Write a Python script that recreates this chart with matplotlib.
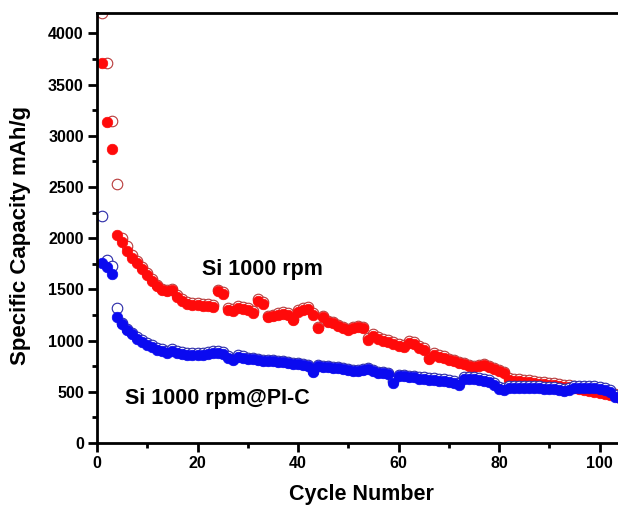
import matplotlib
matplotlib.use("Agg")
import matplotlib.pyplot as plt
from matplotlib.ticker import MultipleLocator

plt.rcParams['font.family'] = ['Liberation Sans', 'DejaVu Sans']
plt.rcParams['font.weight'] = 'bold'

cycles = list(range(1, 105))

# Si 1000 rpm (red): filled = discharge, open = charge
si_fill = [3710, 3140, 2870, 2030, 1960, 1880, 1810, 1760, 1700, 1640,
           1580, 1530, 1490, 1480, 1490, 1430, 1390, 1360, 1350, 1350,
           1340, 1340, 1330, 1480, 1460, 1300, 1290, 1320, 1310, 1300,
           1270, 1390, 1360, 1230, 1240, 1250, 1260, 1250, 1200, 1280,
           1300, 1310, 1250, 1120, 1230, 1180, 1170, 1140, 1120, 1100,
           1120, 1130, 1120, 1010, 1050, 1020, 1000, 990, 970, 950,
           940, 980, 970, 930, 910, 820, 860, 840, 830, 810,
           800, 780, 770, 750, 740, 750, 760, 740, 720, 700,
           680, 620, 610, 610, 600, 600, 590, 580, 580, 570,
           570, 560, 550, 550, 540, 530, 520, 510, 500, 490,
           480, 470, 460, 440]
si_open = [4200, 3710, 3150, 2530, 2000, 1920, 1840, 1780, 1720, 1660,
           1600, 1545, 1505, 1495, 1505, 1445, 1405, 1375, 1365, 1365,
           1355, 1355, 1345, 1495, 1475, 1315, 1305, 1335, 1325, 1315,
           1285, 1405, 1375, 1245, 1255, 1265, 1275, 1265, 1215, 1295,
           1315, 1325, 1265, 1135, 1245, 1195, 1185, 1155, 1135, 1115,
           1135, 1145, 1135, 1025, 1065, 1035, 1015, 1005, 985, 965,
           955, 995, 985, 945, 925, 835, 875, 855, 845, 825,
           815, 795, 785, 765, 755, 765, 775, 755, 735, 715,
           695, 635, 625, 625, 615, 615, 605, 595, 595, 585,
           585, 575, 565, 565, 555, 545, 535, 525, 515, 505,
           495, 485, 475, 455]

# Si 1000 rpm@PI-C (blue)
pic_fill = [1760, 1720, 1650, 1230, 1160, 1100, 1060, 1020, 990, 960,
            940, 910, 900, 880, 900, 880, 870, 860, 860, 860,
            860, 870, 880, 880, 870, 830, 810, 840, 830, 820,
            820, 810, 800, 800, 800, 790, 790, 780, 770, 770,
            760, 750, 690, 750, 740, 740, 730, 730, 720, 710,
            700, 700, 710, 720, 700, 680, 680, 670, 590, 650,
            650, 640, 640, 630, 630, 620, 620, 610, 610, 600,
            590, 570, 630, 630, 630, 620, 610, 600, 570, 530,
            520, 540, 540, 540, 540, 540, 540, 540, 530, 530,
            530, 520, 510, 520, 540, 540, 540, 540, 540, 530,
            520, 500, 450, 440]
pic_open = [2220, 1790, 1730, 1320, 1175, 1115, 1075, 1035, 1005, 975,
            955, 925, 915, 895, 915, 895, 885, 875, 875, 875,
            875, 885, 895, 895, 885, 845, 825, 855, 845, 835,
            835, 825, 815, 815, 815, 805, 805, 795, 785, 785,
            775, 765, 705, 765, 755, 755, 745, 745, 735, 725,
            715, 715, 725, 735, 715, 695, 695, 685, 605, 665,
            665, 655, 655, 645, 645, 635, 635, 625, 625, 615,
            605, 585, 645, 645, 645, 635, 625, 615, 585, 545,
            535, 555, 555, 555, 555, 555, 555, 555, 545, 545,
            545, 535, 525, 535, 555, 555, 555, 555, 555, 545,
            535, 515, 465, 455]

x_ticks = [0, 20, 40, 60, 80, 100]
y_ticks = [0, 500, 1000, 1500, 2000, 2500, 3000, 3500, 4000]

fig = plt.figure(figsize=(6.18, 5.08), dpi=100)
ax = fig.add_axes([97/618, 65/508, 105*5.025/618, 430/508])

ms = 7.6
ax.plot(cycles, si_open, 'o', ms=ms, mfc='white', mec='#B83A3A', mew=0.8, zorder=2)
ax.plot(cycles, si_fill, 'o', ms=ms, mfc='#FF0A0A', mec='#FF0A0A', mew=0.5, zorder=3)
ax.plot(cycles, pic_open, 'o', ms=ms, mfc='white', mec='#2A2AA8', mew=0.8, zorder=4)
ax.plot(cycles, pic_fill, 'o', ms=ms, mfc='#0A0AF0', mec='#0A0AF0', mew=0.5, zorder=5)

ax.set_xlim(0, 105)
ax.set_ylim(0, 4200)
ax.set_xticks(x_ticks)
ax.set_yticks(y_ticks)
ax.xaxis.set_minor_locator(MultipleLocator(10))
ax.yaxis.set_minor_locator(MultipleLocator(250))
ax.tick_params(which='major', direction='out', length=6.5, width=2, labelsize=11.5, pad=3)
ax.tick_params(which='minor', direction='out', length=3.5, width=2)
for lab in ax.get_xticklabels() + ax.get_yticklabels():
    lab.set_fontweight('bold')
for s in ax.spines.values():
    s.set_linewidth(2)
    s.set_zorder(6)

ax.text(20.8, 1642, 'Si 1000 rpm', fontsize=15.5, fontweight='bold', ha='left', va='baseline')
ax.text(5.6, 383, 'Si 1000 rpm@PI-C', fontsize=15.5, fontweight='bold', ha='left', va='baseline')

fig.text(361/618, 1 - 500/508, 'Cycle Number', fontsize=15.5, fontweight='bold', ha='center', va='baseline')
fig.text(21/618, 1 - 235.5/508, 'Specific Capacity mAh/g', fontsize=16, fontweight='bold',
         rotation=90, ha='center', va='center')

fig.savefig('out.png', dpi=100)
